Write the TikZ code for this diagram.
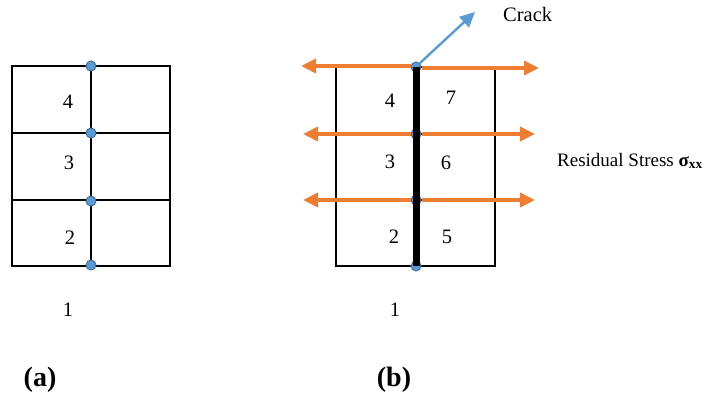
\documentclass[tikz,border=0pt]{standalone}
\usepackage{fontspec}
\setmainfont{Liberation Serif}
\usetikzlibrary{arrows.meta}
\definecolor{dotblue}{HTML}{5B9BD5}
\definecolor{dotedge}{HTML}{41719C}
\definecolor{strorange}{HTML}{ED7D31}
\tikzset{
  gridline/.style={line width=2.6pt, black},
  dotnode/.style={circle, fill=dotblue, draw=dotedge, line width=1pt, minimum size=10pt, inner sep=0pt},
  numlab/.style={font=\fontsize{20.5}{22}\selectfont, inner sep=0pt},
  stressarrow/.style={strorange, line width=3.8pt, -{Triangle[length=15pt,width=14pt]}},
  cracklink/.style={dotblue, line width=2.4pt, -{Triangle[length=15pt,width=14pt]}},
  sublabel/.style={font=\fontsize{28}{30}\selectfont\bfseries, inner sep=0pt}
}
\begin{document}
\begin{tikzpicture}[x=1pt,y=-1pt]
\useasboundingbox (0,0) rectangle (719,397);
% ---------- (a) ----------
\draw[gridline] (12,66) rectangle (170,266);
\draw[gridline] (12,133) -- (170,133);
\draw[gridline] (12,200) -- (170,200);
\draw[gridline] (91,66) -- (91,266);
\node[dotnode] (a1) at (91,66) {};
\node[dotnode] (a2) at (91,133) {};
\node[dotnode] (a3) at (91,201) {};
\node[dotnode] (a4) at (91,265) {};
\node[numlab] (la4) at (68,102) {4};
\node[numlab] (la3) at (69,163) {3};
\node[numlab] (la2) at (70,238) {2};
\node[numlab] (la1) at (68,310) {1};
\node[sublabel] (capa) at (40,380) {(a)};
% ---------- (b) ----------
\draw[gridline] (336,67) rectangle (495,266);
\draw[gridline] (336,134) -- (495,134);
\draw[gridline] (336,200) -- (495,200);
\coordinate (l1) at (301,66);
\coordinate (r1) at (539,68);
\coordinate (l2) at (303,134);
\coordinate (r2) at (535,134);
\coordinate (l3) at (303,200);
\coordinate (r3) at (535,200);
\coordinate (cracktip) at (475,12);
\node[dotnode] (b1) at (416,67) {};
\node[dotnode] (b2) at (416,134) {};
\node[dotnode] (b3) at (416,200) {};
\node[dotnode] (b4) at (416,266) {};
\draw[stressarrow] (b1.west |- l1) -- (l1);
\draw[stressarrow] (b1.east |- r1) -- (r1);
\draw[stressarrow] (b2.west) -- (l2);
\draw[stressarrow] (b2.east) -- (r2);
\draw[stressarrow] (b3.west) -- (l3);
\draw[stressarrow] (b3.east) -- (r3);
\draw[line width=7pt, black] (b1.center) -- (b4.center);
\draw[cracklink] (b1.north east) -- (cracktip);
\node[numlab] (lb4) at (390,101) {4};
\node[numlab] (lb7) at (451,98) {7};
\node[numlab] (lb3) at (390,162) {3};
\node[numlab] (lb6) at (446,163) {6};
\node[numlab] (lb2) at (394,237) {2};
\node[numlab] (lb5) at (447,237) {5};
\node[numlab] (lb1) at (395,310) {1};
\node[sublabel] (capb) at (394,380) {(b)};
\node[anchor=base west, inner sep=0pt, font=\fontsize{20.5}{22}\selectfont] (crack) at (503,21) {Crack};
\node[anchor=base west, inner sep=0pt, font=\fontsize{19}{21}\selectfont] (resid) at (557,166) {Residual Stress \textbf{σ\textsubscript{xx}}};
\end{tikzpicture}
\end{document}
